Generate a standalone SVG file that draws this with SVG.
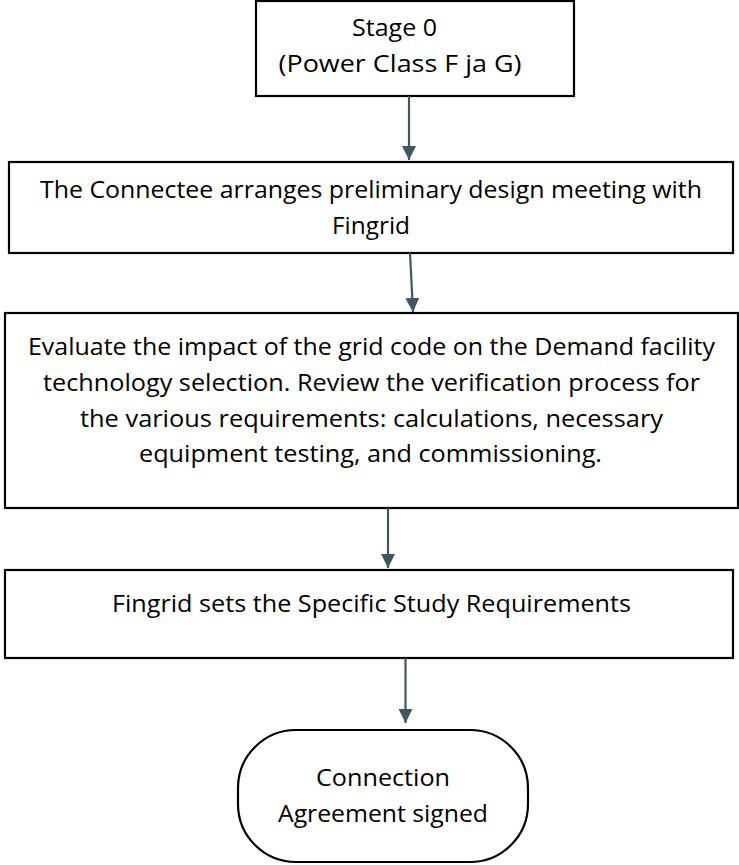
<svg xmlns="http://www.w3.org/2000/svg" width="739" height="865" viewBox="0 0 739 865">
  <style>
    .box { fill: #ffffff; stroke: #000000; stroke-width: 2.2; }
    .lbl { font-family: "Open Sans", "Liberation Sans", sans-serif; font-size: 24.5px; fill: #000000; text-anchor: middle; }
    .edge { stroke: #41575f; stroke-width: 2.2; fill: none; marker-end: url(#head); }
  </style>
  <defs>
    <marker id="head" viewBox="0 0 14 14" refX="14" refY="7" markerWidth="14" markerHeight="14" markerUnits="userSpaceOnUse" orient="auto">
      <path d="M0,0 L14,7 L0,14 Z" fill="#41575f"/>
    </marker>
  </defs>
  <rect width="739" height="865" fill="#ffffff"/>

  <g id="stage0">
    <rect class="box" x="256" y="1" width="318" height="95"/>
    <text class="lbl" x="394.5" y="36" textLength="85" lengthAdjust="spacingAndGlyphs">Stage 0</text>
    <text class="lbl" x="400" y="72" textLength="243" lengthAdjust="spacingAndGlyphs">(Power Class F ja G)</text>
  </g>

  <g id="meeting">
    <rect class="box" x="9" y="162" width="724" height="91"/>
    <text class="lbl" x="371" y="198" textLength="662" lengthAdjust="spacingAndGlyphs">The Connectee arranges preliminary design meeting with</text>
    <text class="lbl" x="371" y="234" textLength="78" lengthAdjust="spacingAndGlyphs">Fingrid</text>
  </g>

  <g id="evaluate">
    <rect class="box" x="5" y="313" width="733" height="195"/>
    <text class="lbl" x="371.5" y="355" textLength="687" lengthAdjust="spacingAndGlyphs">Evaluate the impact of the grid code on the Demand facility</text>
    <text class="lbl" x="371.5" y="391" textLength="657" lengthAdjust="spacingAndGlyphs">technology selection. Review the verification process for</text>
    <text class="lbl" x="371.5" y="427" textLength="583" lengthAdjust="spacingAndGlyphs">the various requirements: calculations, necessary</text>
    <text class="lbl" x="370.5" y="462" textLength="463" lengthAdjust="spacingAndGlyphs">equipment testing, and commissioning.</text>
  </g>

  <g id="study">
    <rect class="box" x="5" y="570" width="728" height="88"/>
    <text class="lbl" x="371.5" y="612" textLength="519" lengthAdjust="spacingAndGlyphs">Fingrid sets the Specific Study Requirements</text>
  </g>

  <g id="agreement">
    <rect class="box" x="238" y="730" width="290" height="132" rx="58" ry="58"/>
    <text class="lbl" x="383" y="786" textLength="134" lengthAdjust="spacingAndGlyphs">Connection</text>
    <text class="lbl" x="383" y="822" textLength="210" lengthAdjust="spacingAndGlyphs">Agreement signed</text>
  </g>

  <g id="connectors">
    <line class="edge" x1="409" y1="96" x2="409" y2="160"/>
    <line class="edge" x1="410" y1="253" x2="413" y2="312"/>
    <line class="edge" x1="388" y1="508" x2="388" y2="568"/>
    <line class="edge" x1="405.5" y1="658" x2="405.5" y2="723"/>
  </g>
</svg>
